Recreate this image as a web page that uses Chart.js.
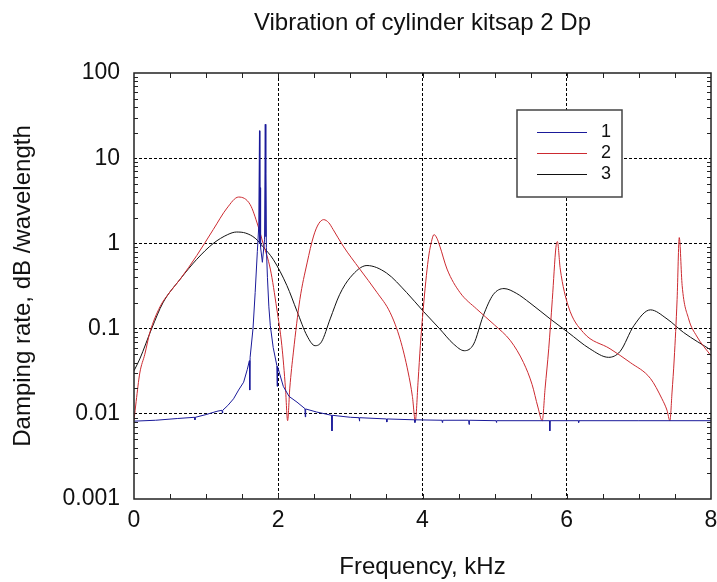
<!DOCTYPE html>
<html>
<head>
<meta charset="utf-8">
<script src="https://cdn.jsdelivr.net/npm/chart.js@4.4.1/dist/chart.umd.min.js"></script>
<style>
  html, body { margin: 0; padding: 0; background: #fff; }
  #wrap { width: 717px; height: 582px; }
</style>
</head>
<body>
<div id="wrap"><canvas id="c" width="717" height="582"></canvas></div>
<script>
// series 1 (blue): flat floor, narrow resonance near 1.8 kHz, small spikes
const freq1 = [0, 0.3, 0.6, 0.84, 0.845, 0.85, 1.0, 1.15, 1.22, 1.225, 1.23, 1.3, 1.38, 1.45, 1.52, 1.57,
  1.60, 1.605, 1.61, 1.65, 1.68, 1.71, 1.73, 1.74, 1.745, 1.75, 1.755, 1.78, 1.81, 1.82, 1.825, 1.83, 1.835,
  1.85, 1.87, 1.89, 1.93, 1.98, 1.985, 1.99, 2.07, 2.15, 2.26, 2.37, 2.375, 2.38, 2.53, 2.74, 2.745, 2.75,
  3.0, 3.12, 3.125, 3.13, 3.5, 3.505, 3.51, 3.89, 3.895, 3.9, 4.27, 4.275, 4.28, 4.64, 4.645, 4.65,
  5.02, 5.025, 5.03, 5.76, 5.765, 5.77, 6.16, 6.165, 6.17, 7.0, 8.0];
const damp1 = [0.0082, 0.0084, 0.0088, 0.0091, 0.0085, 0.0091, 0.0098, 0.0107, 0.011, 0.0102, 0.011, 0.0125, 0.015, 0.019, 0.0235, 0.033,
  0.042, 0.019, 0.046, 0.1, 0.265, 0.8, 1.6, 21, 1.0, 4.5, 0.9, 0.6, 1.1, 25, 1.2, 6.6, 0.9,
  0.4, 0.18, 0.108, 0.06, 0.037, 0.021, 0.036, 0.021, 0.016, 0.0137, 0.0115, 0.0092, 0.0114, 0.0105, 0.0096, 0.0063, 0.0096,
  0.0091, 0.009, 0.0082, 0.009, 0.0087, 0.008, 0.0087, 0.0085, 0.0079, 0.0085, 0.0084, 0.0079, 0.0084, 0.0084, 0.0075, 0.0084,
  0.0083, 0.0079, 0.0083, 0.0083, 0.0063, 0.0083, 0.0083, 0.0079, 0.0083, 0.0083, 0.0083];

// series 2 (red)
const freq2 = [0, 0.03, 0.08, 0.15, 0.22, 0.36, 0.5, 0.64, 0.87, 1.1, 1.29, 1.45, 1.61, 1.72, 1.79,
  1.89, 1.98, 2.05, 2.10, 2.13, 2.16, 2.21, 2.30, 2.40, 2.49, 2.56, 2.63, 2.70, 2.76, 2.90,
  3.13, 3.37, 3.55, 3.69, 3.80, 3.86, 3.90, 3.94, 3.97, 4.01, 4.08, 4.13, 4.16, 4.20, 4.24,
  4.34, 4.52, 4.75, 5.0, 5.22, 5.40, 5.52, 5.60, 5.66, 5.70, 5.75, 5.80, 5.85, 5.87, 5.91,
  6.02, 6.23, 6.60, 6.88, 7.16, 7.32, 7.39, 7.43, 7.46, 7.49, 7.53, 7.56, 7.60, 7.69, 7.80, 8.0];
const damp2 = [0.0084, 0.014, 0.03, 0.05, 0.09, 0.18, 0.27, 0.38, 0.72, 1.46, 2.6, 3.5, 2.86, 1.6, 1.0,
  0.5, 0.17, 0.063, 0.02, 0.0083, 0.02, 0.053, 0.22, 0.59, 1.22, 1.7, 1.9, 1.75, 1.46, 0.93,
  0.5, 0.265, 0.155, 0.075, 0.031, 0.016, 0.0083, 0.025, 0.063, 0.17, 0.65, 1.1, 1.27, 1.15, 0.93,
  0.5, 0.265, 0.17, 0.11, 0.072, 0.04, 0.022, 0.012, 0.0083, 0.02, 0.058, 0.22, 0.9, 1.05, 0.5,
  0.185, 0.09, 0.058, 0.04, 0.026, 0.015, 0.011, 0.0083, 0.018, 0.044, 0.22, 1.17, 0.32, 0.13, 0.082, 0.048];

// series 3 (black)
const freq3 = [0, 0.08, 0.245, 0.4, 0.64, 0.87, 1.1, 1.3, 1.42, 1.55, 1.68, 1.79, 1.93, 2.12, 2.26,
  2.40, 2.51, 2.60, 2.72, 2.85, 3.0, 3.23, 3.50, 3.78, 4.01, 4.24, 4.43, 4.58, 4.71, 4.84,
  4.98, 5.13, 5.30, 5.49, 5.77, 6.02, 6.32, 6.58, 6.74, 6.93, 7.16, 7.39, 7.62, 8.0];
const damp3 = [0.032, 0.044, 0.1, 0.2, 0.38, 0.65, 1.0, 1.27, 1.36, 1.32, 1.15, 0.91, 0.65, 0.32, 0.16,
  0.082, 0.063, 0.07, 0.13, 0.25, 0.4, 0.55, 0.45, 0.265, 0.16, 0.099, 0.066, 0.055, 0.066, 0.14,
  0.25, 0.295, 0.26, 0.2, 0.13, 0.09, 0.058, 0.046, 0.054, 0.108, 0.166, 0.13, 0.09, 0.056];

const seriesLabels = ['1', '2', '3'];
const xTicks = [0, 2, 4, 6, 8];
const yTicks = [0.001, 0.01, 0.1, 1, 10, 100];
const yTickLabels = ['0.001', '0.01', '0.1', '1', '10', '100'];

const FONT = '"Liberation Sans", Arial, sans-serif';
Chart.defaults.font.family = FONT;
Chart.defaults.color = '#111';

function points(fs, vs) {
  return fs.map(function (f, i) { return { x: f, y: vs[i] }; });
}

function gridColor(edges) {
  return function (ctx) {
    return (ctx.tick && edges.indexOf(ctx.tick.value) >= 0) ? 'rgba(0,0,0,0)' : '#000';
  };
}

// frame, inward minor ticks and the boxed legend
const framePlugin = {
  id: 'frame',
  afterDraw: function (chart) {
    const ctx = chart.ctx, a = chart.chartArea, x = chart.scales.x, y = chart.scales.y;
    ctx.save();
    ctx.strokeStyle = '#222';
    ctx.lineWidth = 1;
    ctx.beginPath();
    for (let f = x.min + 0.5; f < x.max; f += 0.5) {
      const px = Math.round(x.getPixelForValue(f)) + 0.5;
      ctx.moveTo(px, a.top); ctx.lineTo(px, a.top + 5);
      ctx.moveTo(px, a.bottom); ctx.lineTo(px, a.bottom - 5);
    }
    for (let e = -3; e < 2; e++) {
      for (let m = 2; m < 10; m++) {
        const py = Math.round(y.getPixelForValue(m * Math.pow(10, e))) + 0.5;
        ctx.moveTo(a.left, py); ctx.lineTo(a.left + 4, py);
        ctx.moveTo(a.right, py); ctx.lineTo(a.right - 4, py);
      }
    }
    ctx.stroke();

    ctx.lineWidth = 1.5;
    ctx.strokeRect(a.left, a.top, a.right - a.left, a.bottom - a.top);

    // legend
    const lx = a.left + 383, ly = a.top + 37, lw = 105, lh = 87;
    ctx.fillStyle = '#fff';
    ctx.fillRect(lx, ly, lw, lh);
    ctx.strokeStyle = '#444';
    ctx.lineWidth = 1.5;
    ctx.strokeRect(lx, ly, lw, lh);
    ctx.font = '18px ' + FONT;
    ctx.textAlign = 'center';
    ctx.textBaseline = 'middle';
    chart.data.datasets.forEach(function (ds, i) {
      const yy = ly + 22 + i * 21 + 0.5;
      ctx.strokeStyle = ds.borderColor;
      ctx.lineWidth = 1;
      ctx.beginPath();
      ctx.moveTo(lx + 20, yy); ctx.lineTo(lx + 70, yy);
      ctx.stroke();
      ctx.fillStyle = '#111';
      ctx.fillText(ds.label, lx + 89, yy);
    });
    ctx.restore();
  }
};

new Chart(document.getElementById('c'), {
  type: 'line',
  data: {
    datasets: [
      { label: seriesLabels[0], data: points(freq1, damp1), borderColor: '#1a1a9a', borderWidth: 1, pointRadius: 0, tension: 0 },
      { label: seriesLabels[1], data: points(freq2, damp2), borderColor: '#cc2a30', borderWidth: 1, pointRadius: 0, cubicInterpolationMode: 'monotone' },
      { label: seriesLabels[2], data: points(freq3, damp3), borderColor: '#111111', borderWidth: 1, pointRadius: 0, cubicInterpolationMode: 'monotone' }
    ]
  },
  options: {
    responsive: false,
    animation: false,
    devicePixelRatio: 1,
    layout: { padding: { left: 0, right: 6, top: 0, bottom: 0 } },
    plugins: {
      legend: { display: false },
      tooltip: { enabled: false },
      title: {
        display: true,
        fullSize: false,
        text: 'Vibration of cylinder kitsap 2 Dp',
        font: { size: 24, weight: 'normal' },
        color: '#111',
        padding: { top: 9, bottom: 35.2 }
      }
    },
    scales: {
      x: {
        type: 'linear', min: 0, max: 8,
        afterBuildTicks: function (s) { s.ticks = xTicks.map(function (v) { return { value: v }; }); },
        afterFit: function (s) { s.height = 83; s.paddingLeft = 0; s.paddingRight = 0; },
        ticks: { font: { size: 23 }, color: '#111', padding: 8, maxRotation: 0, autoSkip: false,
          callback: function (v) { return String(v); } },
        grid: { drawTicks: false, lineWidth: 1, color: gridColor([0, 8]) },
        border: { display: false, dash: [3, 2] },
        title: { display: true, text: 'Frequency, kHz', font: { size: 24 }, color: '#111', padding: { top: 0, bottom: 0 } }
      },
      y: {
        type: 'logarithmic', min: 0.001, max: 100,
        afterBuildTicks: function (s) { s.ticks = yTicks.map(function (v) { return { value: v }; }); },
        afterFit: function (s) { s.width = 134; },
        ticks: { font: { size: 23 }, color: '#111', padding: 14, autoSkip: false,
          callback: function (v, i) { return yTickLabels[i]; } },
        grid: { drawTicks: false, lineWidth: 1, color: gridColor([0.001, 100]) },
        border: { display: false, dash: [3, 2] },
        title: { display: true, text: 'Damping rate, dB /wavelength', font: { size: 24 }, color: '#111', padding: { top: 9, bottom: 0 } }
      }
    }
  },
  plugins: [framePlugin]
});
</script>
</body>
</html>
